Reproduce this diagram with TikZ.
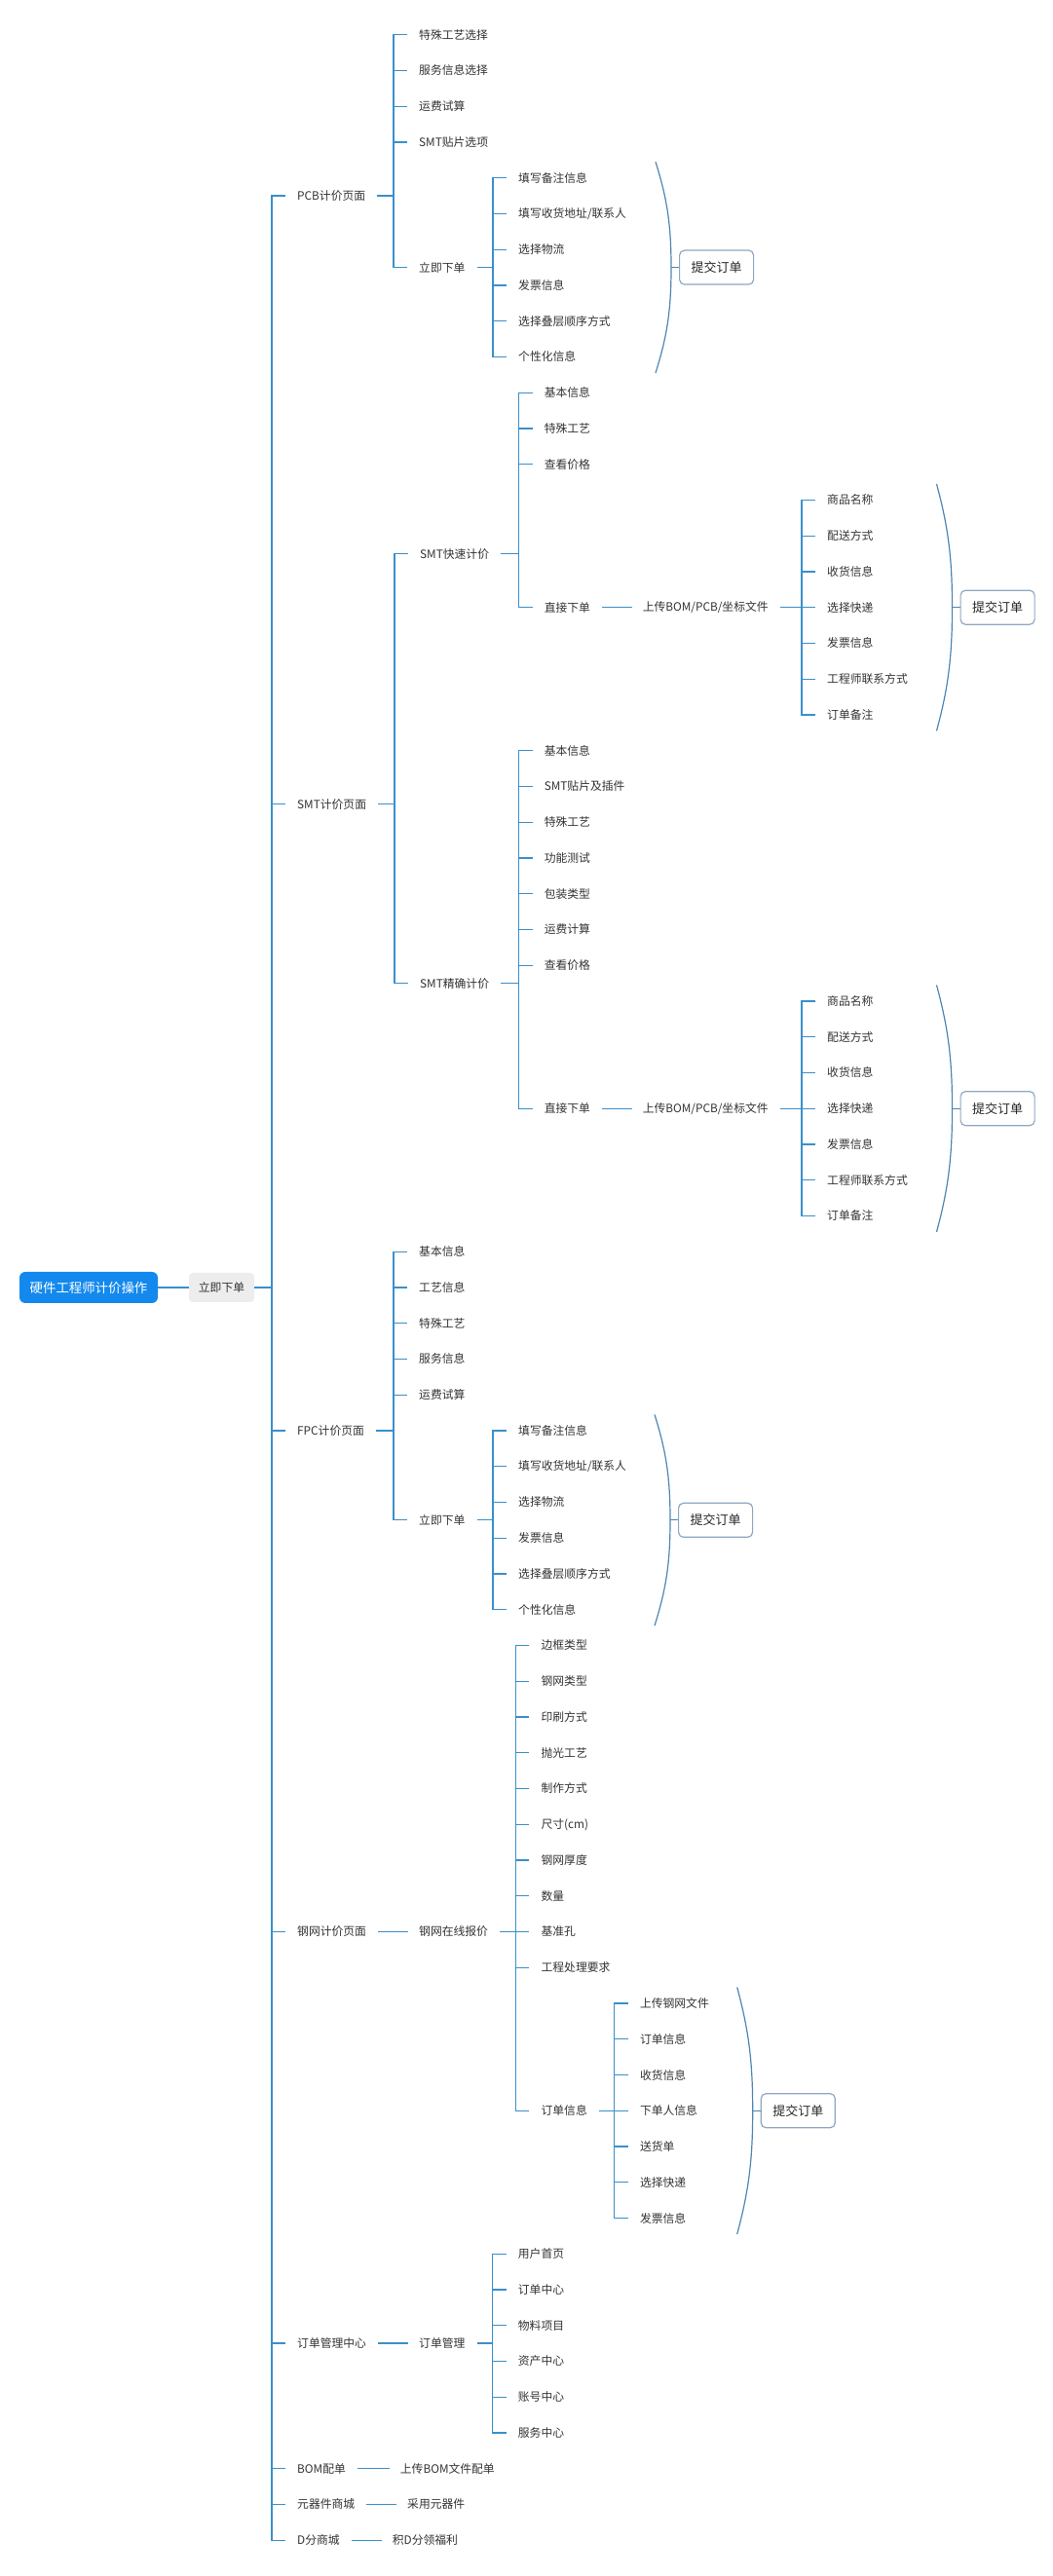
\documentclass[tikz,border=0pt]{standalone}
\usepackage{fontspec}
\setmainfont{Noto Sans CJK SC}
\usetikzlibrary{calc}
\definecolor{conncol}{HTML}{3A8FCB}
\definecolor{brkcol}{HTML}{4F86B3}
\definecolor{boxcol}{HTML}{8EA8C3}
\definecolor{txtcol}{HTML}{333333}
\definecolor{rootcol}{HTML}{1389EE}
\definecolor{graycol}{HTML}{EDEDED}
\tikzset{
 lbl/.style={anchor=west, inner sep=0pt, text=txtcol, font=\fontsize{11.8pt}{14pt}\selectfont},
 conn/.style={draw=conncol, line width=1.3pt},
 brk/.style={draw=brkcol, line width=1.2pt},
 submit/.style={draw=boxcol, line width=1.2pt, rounded corners=5pt, fill=white, minimum width=76pt, minimum height=35pt, text=black!85, font=\fontsize{13pt}{15pt}\selectfont, anchor=west, inner sep=0pt},
 rootbox/.style={fill=rootcol, rounded corners=6pt, text=white, minimum width=142pt, minimum height=32pt, font=\fontsize{13.4pt}{15pt}\selectfont, inner sep=0pt},
 graybox/.style={fill=graycol, rounded corners=4pt, text=txtcol, minimum width=67pt, minimum height=30pt, font=\fontsize{11.8pt}{14pt}\selectfont, inner sep=0pt},
}
\newcommand\mmfork[3]{%
 \draw[conn] let \p1=(#2.west), \p2=(#1.east) in ([xshift=12pt]#1.east) -- ({\x1-26pt},{\y2});
 \draw[conn] ([xshift=-12pt]#2.west) -- ([xshift=-26pt]#2.west) -- ([xshift=-26pt]#3.west) -- ([xshift=-12pt]#3.west);
}
\newcommand\mmticks[1]{%
 \foreach \c in {#1} \draw[conn] ([xshift=-26pt]\c.west) -- ([xshift=-12pt]\c.west);
}
\newcommand\mmline[2]{%
 \draw[conn] ([xshift=12pt]#1.east) -- ([xshift=-11pt]#2.west);
}
\newcommand\mmbrk[3]{%
 \draw[brk] let \p1=(#1.west), \p2=(#2.west), \p3=(#3.west),
   \n1={\y2+16.5pt-\y1}, \n2={\y1-\y3+16.5pt} in
   ({\x1-24pt},{\y2+16.5pt}) .. controls ({\x1-12pt},{\y2+16.5pt-0.35*\n1}) and ({\x1-8pt},{\y1+0.4*\n1}) .. ({\x1-8pt},{\y1})
   .. controls ({\x1-8pt},{\y1-0.4*\n2}) and ({\x1-12pt},{\y3-16.5pt+0.35*\n2}) .. ({\x1-24pt},{\y3-16.5pt});
 \draw[brk] let \p1=(#1.west) in ({\x1-8pt},{\y1}) -- (#1.west);
}
\begin{document}
\begin{tikzpicture}[x=1pt,y=-36.75pt]
\fill[white] (0,-0.971429) rectangle (1080,71.0014);
\useasboundingbox (0,-0.971429) rectangle (1080,71.0014);

% root
\node[rootbox] (root) at (91,35) {硬件工程师计价操作};
\node[graybox] (go) at (227.5,35) {立即下单};

% level 1
\node[lbl] (pcb) at (305,4.5) {PCB计价页面};
\node[lbl] (smt) at (305,21.5) {SMT计价页面};
\node[lbl] (fpc) at (305,39) {FPC计价页面};
\node[lbl] (gw) at (305,53) {钢网计价页面};
\node[lbl] (ddgl) at (305,64.5) {订单管理中心};
\node[lbl] (bom) at (305,68) {BOM配单};
\node[lbl] (yqj) at (305,69) {元器件商城};
\node[lbl] (dfsc) at (305,70) {D分商城};

% PCB
\node[lbl] (p1) at (430,0) {特殊工艺选择};
\node[lbl] (p2) at (430,1) {服务信息选择};
\node[lbl] (p3) at (430,2) {运费试算};
\node[lbl] (p4) at (430,3) {SMT贴片选项};
\node[lbl] (pxd) at (430,6.5) {立即下单};
\node[lbl] (pa1) at (532,4) {填写备注信息};
\node[lbl] (pa2) at (532,5) {填写收货地址/联系人};
\node[lbl] (pa3) at (532,6) {选择物流};
\node[lbl] (pa4) at (532,7) {发票信息};
\node[lbl] (pa5) at (532,8) {选择叠层顺序方式};
\node[lbl] (pa6) at (532,9) {个性化信息};
\node[submit] (pbox) at (697,6.5) {提交订单};

% SMT
\node[lbl] (sk) at (431,14.5) {SMT快速计价};
\node[lbl] (sj) at (431,26.5) {SMT精确计价};
\node[lbl] (ska) at (558.6,10) {基本信息};
\node[lbl] (skb) at (558.6,11) {特殊工艺};
\node[lbl] (skc) at (558.6,12) {查看价格};
\node[lbl] (skz) at (558.6,16) {直接下单};
\node[lbl] (sku) at (659.6,16) {上传BOM/PCB/坐标文件};
\node[lbl] (ku1) at (849,13) {商品名称};
\node[lbl] (ku2) at (849,14) {配送方式};
\node[lbl] (ku3) at (849,15) {收货信息};
\node[lbl] (ku4) at (849,16) {选择快递};
\node[lbl] (ku5) at (849,17) {发票信息};
\node[lbl] (ku6) at (849,18) {工程师联系方式};
\node[lbl] (ku7) at (849,19) {订单备注};
\node[submit] (skbox) at (985.5,16) {提交订单};

\node[lbl] (sja) at (558.6,20) {基本信息};
\node[lbl] (sjb) at (558.6,21) {SMT贴片及插件};
\node[lbl] (sjc) at (558.6,22) {特殊工艺};
\node[lbl] (sjd) at (558.6,23) {功能测试};
\node[lbl] (sje) at (558.6,24) {包装类型};
\node[lbl] (sjf) at (558.6,25) {运费计算};
\node[lbl] (sjg) at (558.6,26) {查看价格};
\node[lbl] (sjz) at (558.6,30) {直接下单};
\node[lbl] (sju) at (659.6,30) {上传BOM/PCB/坐标文件};
\node[lbl] (ju1) at (849,27) {商品名称};
\node[lbl] (ju2) at (849,28) {配送方式};
\node[lbl] (ju3) at (849,29) {收货信息};
\node[lbl] (ju4) at (849,30) {选择快递};
\node[lbl] (ju5) at (849,31) {发票信息};
\node[lbl] (ju6) at (849,32) {工程师联系方式};
\node[lbl] (ju7) at (849,33) {订单备注};
\node[submit] (sjbox) at (985.5,30) {提交订单};

% FPC
\node[lbl] (fa) at (430,34) {基本信息};
\node[lbl] (fb) at (430,35) {工艺信息};
\node[lbl] (fc) at (430,36) {特殊工艺};
\node[lbl] (fd) at (430,37) {服务信息};
\node[lbl] (fe) at (430,38) {运费试算};
\node[lbl] (fxd) at (430,41.5) {立即下单};
\node[lbl] (fx1) at (532,39) {填写备注信息};
\node[lbl] (fx2) at (532,40) {填写收货地址/联系人};
\node[lbl] (fx3) at (532,41) {选择物流};
\node[lbl] (fx4) at (532,42) {发票信息};
\node[lbl] (fx5) at (532,43) {选择叠层顺序方式};
\node[lbl] (fx6) at (532,44) {个性化信息};
\node[submit] (fbox) at (696,41.5) {提交订单};

% steel mesh
\node[lbl] (gwz) at (430,53) {钢网在线报价};
\node[lbl] (g1) at (555.4,45) {边框类型};
\node[lbl] (g2) at (555.4,46) {钢网类型};
\node[lbl] (g3) at (555.4,47) {印刷方式};
\node[lbl] (g4) at (555.4,48) {抛光工艺};
\node[lbl] (g5) at (555.4,49) {制作方式};
\node[lbl] (g6) at (555.4,50) {尺寸(cm)};
\node[lbl] (g7) at (555.4,51) {钢网厚度};
\node[lbl] (g8) at (555.4,52) {数量};
\node[lbl] (g9) at (555.4,53) {基准孔};
\node[lbl] (g10) at (555.4,54) {工程处理要求};
\node[lbl] (gwd) at (555.4,58) {订单信息};
\node[lbl] (gd1) at (656.8,55) {上传钢网文件};
\node[lbl] (gd2) at (656.8,56) {订单信息};
\node[lbl] (gd3) at (656.8,57) {收货信息};
\node[lbl] (gd4) at (656.8,58) {下单人信息};
\node[lbl] (gd5) at (656.8,59) {送货单};
\node[lbl] (gd6) at (656.8,60) {选择快递};
\node[lbl] (gd7) at (656.8,61) {发票信息};
\node[submit] (gbox) at (780.7,58) {提交订单};

% order management
\node[lbl] (ddm) at (430,64.5) {订单管理};
\node[lbl] (dm1) at (531.7,62) {用户首页};
\node[lbl] (dm2) at (531.7,63) {订单中心};
\node[lbl] (dm3) at (531.7,64) {物料项目};
\node[lbl] (dm4) at (531.7,65) {资产中心};
\node[lbl] (dm5) at (531.7,66) {账号中心};
\node[lbl] (dm6) at (531.7,67) {服务中心};

% others
\node[lbl] (bomc) at (410.7,68) {上传BOM文件配单};
\node[lbl] (yqjc) at (418,69) {采用元器件};
\node[lbl] (dfc) at (402.7,70) {积D分领福利};

% connectors: root and main spine
\draw[conn] (root.east) -- (go.west);
\draw[conn] let \p1=(pcb.west), \p2=(go.east) in (go.east) -- ({\x1-26pt},{\y2});
\draw[conn] ([xshift=-12pt]pcb.west) -- ([xshift=-26pt]pcb.west) -- ([xshift=-26pt]dfsc.west) -- ([xshift=-12pt]dfsc.west);
\mmticks{smt,fpc,gw,ddgl,bom,yqj}

% PCB
\mmfork{pcb}{p1}{pxd}
\mmticks{p2,p3,p4}
\mmfork{pxd}{pa1}{pa6}
\mmticks{pa2,pa3,pa4,pa5}
\mmbrk{pbox}{pa1}{pa6}

% SMT
\mmfork{smt}{sk}{sj}
\mmfork{sk}{ska}{skz}
\mmticks{skb,skc}
\mmline{skz}{sku}
\mmfork{sku}{ku1}{ku7}
\mmticks{ku2,ku3,ku4,ku5,ku6}
\mmbrk{skbox}{ku1}{ku7}
\mmfork{sj}{sja}{sjz}
\mmticks{sjb,sjc,sjd,sje,sjf,sjg}
\mmline{sjz}{sju}
\mmfork{sju}{ju1}{ju7}
\mmticks{ju2,ju3,ju4,ju5,ju6}
\mmbrk{sjbox}{ju1}{ju7}

% FPC
\mmfork{fpc}{fa}{fxd}
\mmticks{fb,fc,fd,fe}
\mmfork{fxd}{fx1}{fx6}
\mmticks{fx2,fx3,fx4,fx5}
\mmbrk{fbox}{fx1}{fx6}

% steel mesh
\mmline{gw}{gwz}
\mmfork{gwz}{g1}{gwd}
\mmticks{g2,g3,g4,g5,g6,g7,g8,g9,g10}
\mmfork{gwd}{gd1}{gd7}
\mmticks{gd2,gd3,gd4,gd5,gd6}
\mmbrk{gbox}{gd1}{gd7}

% order management
\mmline{ddgl}{ddm}
\mmfork{ddm}{dm1}{dm6}
\mmticks{dm2,dm3,dm4,dm5}

% others
\mmline{bom}{bomc}
\mmline{yqj}{yqjc}
\mmline{dfsc}{dfc}
\end{tikzpicture}
\end{document}
